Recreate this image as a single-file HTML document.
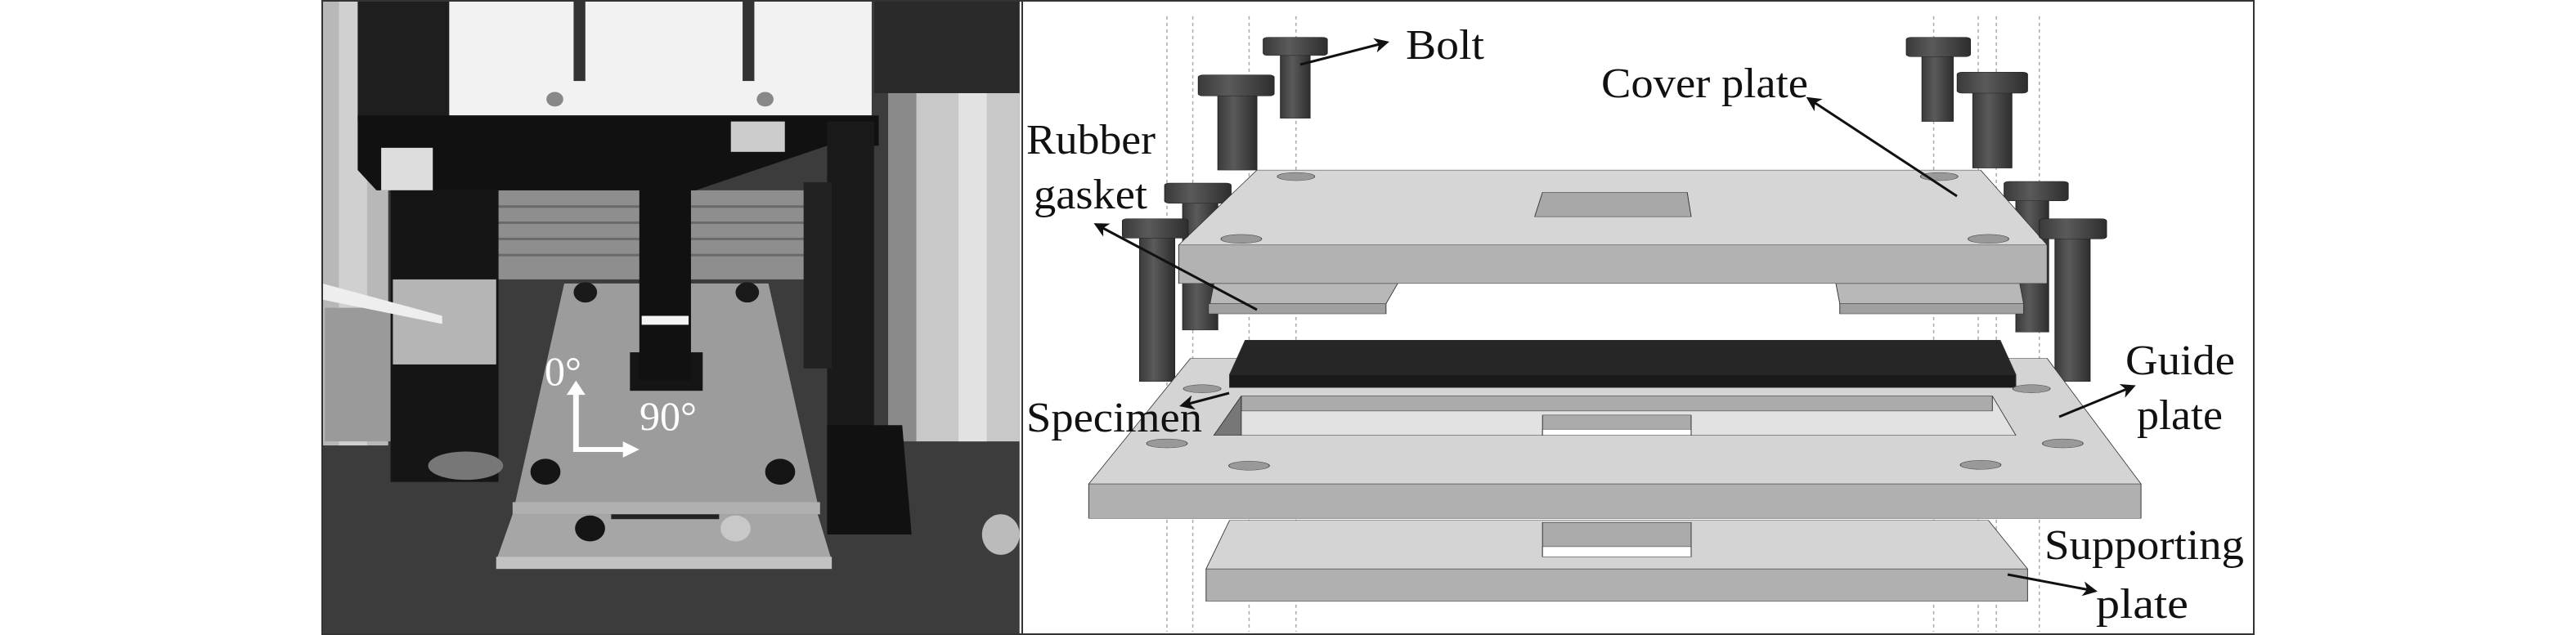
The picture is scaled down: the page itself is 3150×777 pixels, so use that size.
<!DOCTYPE html>
<html><head><meta charset="utf-8"><style>
html,body{margin:0;padding:0;background:#fff;}
svg{display:block;}
text{font-family:"Liberation Serif",serif;}
</style></head><body>
<svg width="3150" height="777" viewBox="0 0 3150 777" xmlns="http://www.w3.org/2000/svg">
<defs>
<marker id="ahb" markerWidth="18" markerHeight="18" refX="14" refY="9" orient="auto" markerUnits="userSpaceOnUse" viewBox="0 0 18 18">
<path d="M0,0 L18,9 L0,18 L5,9 z" fill="#111"/>
</marker>
<linearGradient id="bolt" x1="0" x2="1" y1="0" y2="0">
<stop offset="0" stop-color="#3a3a3a"/><stop offset="0.4" stop-color="#5a5a5a"/><stop offset="1" stop-color="#2e2e2e"/>
</linearGradient>
</defs>

<!-- PHOTO (zoom1 coordinate system) -->
<g transform="translate(380,0) scale(0.5740,0.4955)">
<rect x="25" y="0" width="1485" height="1568" fill="#3c3c3c"/>
<rect x="25" y="0" width="140" height="1100" fill="#b8b8b8"/>
<rect x="60" y="0" width="60" height="1100" fill="#d0d0d0"/>
<rect x="30" y="760" width="180" height="330" fill="#9a9a9a"/>
<rect x="1290" y="230" width="220" height="860" fill="#c8c8c8"/>
<rect x="1380" y="230" width="60" height="860" fill="#e2e2e2"/>
<rect x="1230" y="230" width="60" height="860" fill="#8a8a8a"/>
<rect x="1200" y="0" width="310" height="230" fill="#2a2a2a"/>
<rect x="100" y="0" width="200" height="300" fill="#1e1e1e"/>
<rect x="370" y="470" width="710" height="220" fill="#8e8e8e"/>
<g stroke="#6a6a6a" stroke-width="6"><line x1="370" y1="510" x2="1080" y2="510"/><line x1="370" y1="550" x2="1080" y2="550"/><line x1="370" y1="590" x2="1080" y2="590"/><line x1="370" y1="630" x2="1080" y2="630"/></g>
<rect x="295" y="0" width="900" height="285" fill="#f2f2f2"/>
<rect x="560" y="0" width="25" height="200" fill="#333"/>
<rect x="920" y="0" width="25" height="200" fill="#333"/>
<circle cx="520" cy="245" r="18" fill="#888"/><circle cx="968" cy="245" r="18" fill="#888"/>
<path d="M100,285 L1210,285 L1210,360 L1100,360 L820,470 L140,470 L100,420 z" fill="#111"/>
<rect x="895" y="300" width="115" height="75" fill="#ccc"/>
<rect x="150" y="365" width="110" height="105" fill="#ddd"/>
<rect x="170" y="470" width="230" height="720" fill="#151515"/>
<rect x="175" y="690" width="220" height="210" fill="#b5b5b5"/>
<ellipse cx="330" cy="1150" rx="80" ry="35" fill="#777"/>
<path d="M25,700 L280,780 L280,800 L25,740 z" fill="#eee"/>
<rect x="1100" y="300" width="100" height="760" fill="#1a1a1a"/>
<rect x="1050" y="450" width="60" height="460" fill="#222"/>
<path d="M1100,1050 L1260,1050 L1280,1320 L1100,1320 z" fill="#111"/>
<path d="M540,700 L975,700 L1085,1270 L430,1270 z" fill="#9c9c9c"/>
<path d="M430,1240 L1085,1240 L1085,1270 L430,1270 z" fill="#b0b0b0"/>
<rect x="680" y="870" width="155" height="95" fill="#151515"/>
<rect x="700" y="420" width="110" height="520" fill="#111"/>
<rect x="705" y="780" width="100" height="22" fill="#f4f4f4"/>
<path d="M430,1270 L1080,1270 L1110,1385 L395,1385 z" fill="#a6a6a6"/>
<rect x="395" y="1375" width="715" height="30" fill="#c2c2c2"/>
<rect x="640" y="1270" width="230" height="12" fill="#222"/>
<circle cx="585" cy="722" r="25" fill="#1a1a1a"/><circle cx="930" cy="722" r="25" fill="#1a1a1a"/>
<circle cx="500" cy="1165" r="32" fill="#151515"/><circle cx="1000" cy="1165" r="32" fill="#151515"/>
<circle cx="595" cy="1305" r="32" fill="#151515"/><circle cx="905" cy="1305" r="32" fill="#c8c8c8"/>
<ellipse cx="1470" cy="1320" rx="40" ry="50" fill="#bbb"/>
<polyline points="565,950 565,1110 690,1110" fill="none" stroke="#fff" stroke-width="12"/>
<path d="M565,940 L545,975 L585,975 z" fill="#fff"/>
<path d="M700,1110 L665,1090 L665,1130 z" fill="#fff"/>
</g>
<rect x="394" y="1" width="856" height="775" fill="none" stroke="#333" stroke-width="2"/>
<text x="666" y="471" font-size="50" fill="#fff">0°</text>
<text x="782" y="526" font-size="50" fill="#fff">90°</text>

<!-- DIAGRAM (zoom2 coordinate system) -->
<rect x="1250" y="1" width="1506" height="775" fill="#fff" stroke="#333" stroke-width="2"/>
<g transform="translate(1250,0) scale(0.9567,0.4955)">
<g stroke="#aaa" stroke-width="1.5" stroke-dasharray="4,4">
<line x1="185" y1="40" x2="185" y2="1560" vector-effect="non-scaling-stroke"/>
<line x1="218" y1="40" x2="218" y2="1560" vector-effect="non-scaling-stroke"/>
<line x1="290" y1="40" x2="290" y2="1560" vector-effect="non-scaling-stroke"/>
<line x1="350" y1="40" x2="350" y2="1560" vector-effect="non-scaling-stroke"/>
<line x1="1165" y1="40" x2="1165" y2="1560" vector-effect="non-scaling-stroke"/>
<line x1="1222" y1="40" x2="1222" y2="1560" vector-effect="non-scaling-stroke"/>
<line x1="1245" y1="40" x2="1245" y2="1560" vector-effect="non-scaling-stroke"/>
<line x1="1300" y1="40" x2="1300" y2="1560" vector-effect="non-scaling-stroke"/>
</g>
<g fill="url(#bolt)" stroke="#222" stroke-width="1">
<rect x="330" y="120" width="38" height="172"/><rect x="308" y="92" width="82" height="45" rx="6"/>
<rect x="1150" y="120" width="40" height="180"/><rect x="1130" y="92" width="82" height="48" rx="6"/>
<rect x="250" y="215" width="50" height="205"/><rect x="225" y="185" width="97" height="52" rx="6"/>
<rect x="1215" y="205" width="50" height="210"/><rect x="1195" y="178" width="90" height="52" rx="6"/>
<rect x="205" y="480" width="45" height="335"/><rect x="182" y="452" width="85" height="50" rx="6"/>
<rect x="1270" y="475" width="42" height="345"/><rect x="1255" y="448" width="82" height="48" rx="6"/>
</g>
<g stroke="#333" stroke-width="1">
<path d="M245,700 L480,700 L465,750 L240,750 z" fill="#b8b8b8"/>
<rect x="238" y="750" width="227" height="25" fill="#a0a0a0"/>
<path d="M1040,700 L1275,700 L1280,750 L1045,750 z" fill="#b8b8b8"/>
<rect x="1045" y="750" width="235" height="25" fill="#a0a0a0"/>
<path d="M300,420 L1225,420 L1310,605 L200,605 z" fill="#d6d6d6"/>
<rect x="200" y="605" width="1110" height="95" fill="#b2b2b2"/>
<path d="M665,475 L850,475 L855,535 L655,535 z" fill="#a8a8a8"/>
</g>
<g fill="#999" stroke="#444" stroke-width="1">
<ellipse cx="350" cy="436" rx="24" ry="10"/><ellipse cx="1172" cy="436" rx="24" ry="10"/>
<ellipse cx="280" cy="590" rx="26" ry="11"/><ellipse cx="1235" cy="590" rx="26" ry="11"/>
</g>
<g fill="url(#bolt)" stroke="#222" stroke-width="1">
<rect x="150" y="570" width="45" height="372"/><rect x="128" y="540" width="84" height="48" rx="6"/>
<rect x="1320" y="570" width="45" height="372"/><rect x="1300" y="540" width="86" height="50" rx="6"/>
</g>
<g stroke="#333" stroke-width="1">
<path d="M215,885 L1310,885 L1430,1195 L85,1195 z" fill="#d4d4d4"/>
<rect x="85" y="1195" width="1345" height="85" fill="#b0b0b0"/>
<path d="M280,978 L1240,978 L1270,1075 L245,1075 z" fill="#e2e2e2"/>
<path d="M280,978 L1240,978 L1240,1015 L280,1015 z" fill="#ababab"/>
<path d="M280,978 L280,1075 L245,1075 z" fill="#777"/>
<path d="M665,1025 L855,1025 L855,1075 L665,1075 z" fill="#aaa"/>
<rect x="665" y="1060" width="190" height="15" fill="#fff"/>
<path d="M285,840 L1250,840 L1270,925 L265,925 z" fill="#262626"/>
<rect x="265" y="925" width="1005" height="32" fill="#1a1a1a"/>
<path d="M265,1285 L1235,1285 L1285,1405 L235,1405 z" fill="#d4d4d4"/>
<rect x="235" y="1405" width="1050" height="80" fill="#b0b0b0"/>
<path d="M665,1290 L855,1290 L855,1375 L665,1375 z" fill="#aaa"/>
<rect x="665" y="1350" width="190" height="25" fill="#fff"/>
</g>
<g fill="#999" stroke="#444" stroke-width="1">
<ellipse cx="230" cy="960" rx="24" ry="10"/><ellipse cx="1290" cy="960" rx="24" ry="10"/>
<ellipse cx="185" cy="1095" rx="26" ry="11"/><ellipse cx="1330" cy="1095" rx="26" ry="11"/>
<ellipse cx="290" cy="1150" rx="26" ry="11"/><ellipse cx="1225" cy="1148" rx="26" ry="11"/>
</g>
</g>
<g stroke="#111" stroke-width="3" fill="none">
<line x1="1590" y1="79" x2="1695" y2="52" marker-end="url(#ahb)"/>
<line x1="2393" y1="240" x2="2212" y2="121" marker-end="url(#ahb)"/>
<line x1="1537" y1="379" x2="1341" y2="275" marker-end="url(#ahb)"/>
<line x1="1503" y1="481" x2="1446" y2="496" marker-end="url(#ahb)"/>
<line x1="2518" y1="510" x2="2608" y2="473" marker-end="url(#ahb)"/>
<line x1="2455" y1="703" x2="2561" y2="723" marker-end="url(#ahb)"/>
</g>
<g font-size="52" fill="#111">
<text x="1719" y="72" textLength="96" lengthAdjust="spacingAndGlyphs">Bolt</text>
<text x="1958" y="119" textLength="253" lengthAdjust="spacingAndGlyphs">Cover plate</text>
<text x="1255" y="188" textLength="158" lengthAdjust="spacingAndGlyphs">Rubber</text>
<text x="1264" y="255" textLength="139" lengthAdjust="spacingAndGlyphs">gasket</text>
<text x="1255" y="528" textLength="215" lengthAdjust="spacingAndGlyphs">Specimen</text>
<text x="2599" y="458" textLength="134" lengthAdjust="spacingAndGlyphs">Guide</text>
<text x="2613" y="525" textLength="105" lengthAdjust="spacingAndGlyphs">plate</text>
<text x="2500" y="684" textLength="244" lengthAdjust="spacingAndGlyphs">Supporting</text>
<text x="2563" y="756" textLength="113" lengthAdjust="spacingAndGlyphs">plate</text>
</g>
</svg>
</body></html>
